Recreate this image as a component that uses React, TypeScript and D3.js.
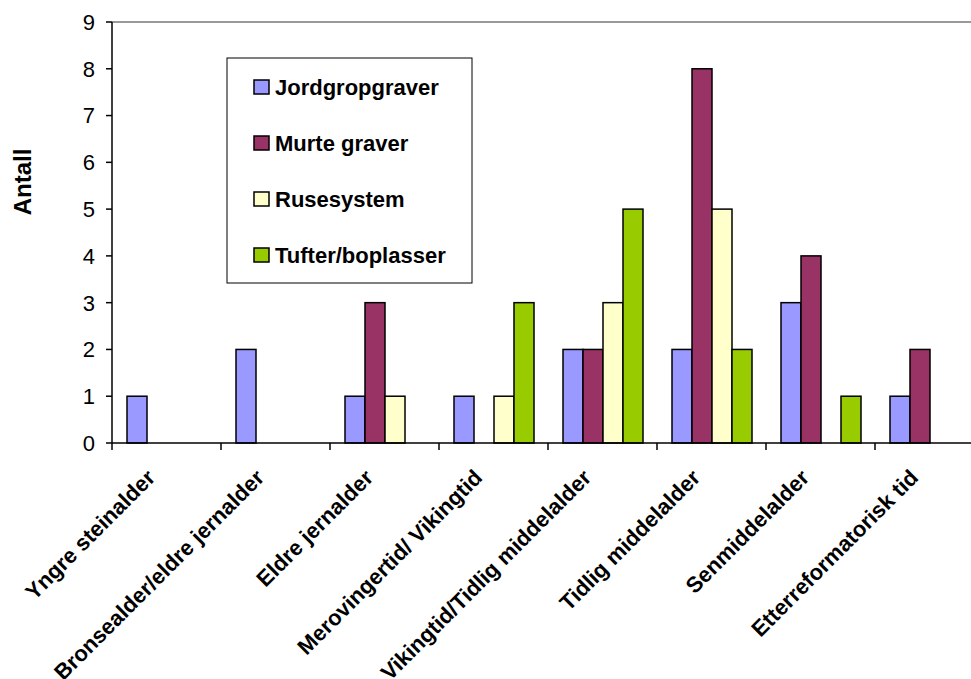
import React from "react";
import * as d3 from "d3";

const categories = [
  "Yngre steinalder",
  "Bronsealder/eldre jernalder",
  "Eldre jernalder",
  "Merovingertid/ Vikingtid",
  "Vikingtid/Tidlig middelalder",
  "Tidlig middelalder",
  "Senmiddelalder",
  "Etterreformatorisk tid",
];
const seriesNames = ["Jordgropgraver", "Murte graver", "Rusesystem", "Tufter/boplasser"];
const jordgropgraver = [1, 2, 1, 1, 2, 2, 3, 1];
const murteGraver = [0, 0, 3, 0, 2, 8, 4, 2];
const rusesystem = [0, 0, 1, 1, 3, 5, 0, 0];
const tufter = [0, 0, 0, 3, 5, 2, 1, 0];
const colors = ["#9999FF", "#993366", "#FFFFCC", "#99CC00"];
const yTicks = [0, 1, 2, 3, 4, 5, 6, 7, 8, 9];

const W = 971;
const H = 679;
const FONT = "Arial, 'Liberation Sans', sans-serif";

export default function App() {
  const series = [jordgropgraver, murteGraver, rusesystem, tufter];
  const left = 112;
  const top = 22;
  const bottom = 443;
  const step = 109;
  const x = d3.scaleBand<string>().domain(categories).range([left, left + step * categories.length]).paddingInner(0).paddingOuter(0);
  const y = d3.scaleLinear().domain([0, 9]).range([bottom, top]);
  const inner = d3.scaleBand<number>().domain([0, 1, 2, 3]).range([15, 95]).padding(0);

  return (
    <svg width={W} height={H} style={{ position: "absolute", left: 0, top: 0, background: "#fff" }}>
      <rect x={0} y={0} width={W} height={H} fill="#fff" />
      <line x1={left} x2={W} y1={y(9)} y2={y(9)} stroke="#999" strokeWidth={2} />
      {categories.map((c, ci) =>
        series.map((s, si) =>
          s[ci] > 0 ? (
            <rect
              key={`${ci}-${si}`}
              x={(x(c) as number) + (inner(si) as number)}
              y={y(s[ci])}
              width={inner.bandwidth()}
              height={y(0) - y(s[ci])}
              fill={colors[si]}
              stroke="#000"
              strokeWidth={1.5}
            />
          ) : null
        )
      )}
      <line x1={left} x2={left} y1={top} y2={bottom} stroke="#000" strokeWidth={1.5} />
      {yTicks.map((t) => (
        <g key={t}>
          <line x1={left - 6} x2={left} y1={y(t)} y2={y(t)} stroke="#000" strokeWidth={1.5} />
          <text x={95} y={y(t)} dy="0.36em" textAnchor="end" fontFamily={FONT} fontSize={22} fill="#000">
            {t}
          </text>
        </g>
      ))}
      <line x1={left} x2={W} y1={bottom} y2={bottom} stroke="#000" strokeWidth={1.5} />
      {categories.map((c) => (
        <line key={c} x1={x(c) as number} x2={x(c) as number} y1={bottom} y2={bottom + 7} stroke="#000" strokeWidth={1.5} />
      ))}
      {categories.map((c) => {
        const cx = (x(c) as number) + x.bandwidth() / 2;
        return (
          <text
            key={c}
            transform={`translate(${cx - 10},${479}) rotate(-45)`}
            textAnchor="end"
            fontFamily={FONT}
            fontSize={22}
            fontWeight="bold"
            fill="#000"
          >
            {c}
          </text>
        );
      })}
      <text transform={`translate(31,182) rotate(-90)`} textAnchor="middle" fontFamily={FONT} fontSize={24} fontWeight="bold">
        Antall
      </text>
      <rect x={227} y={58} width={245} height={225} fill="#fff" stroke="#000" strokeWidth={1} />
      {seriesNames.map((n, i) => {
        const cy = 87 + i * 56;
        return (
          <g key={n}>
            <rect x={254} y={cy - 7} width={15} height={14} fill={colors[i]} stroke="#000" strokeWidth={1.5} />
            <text x={275} y={cy} dy="0.36em" fontFamily={FONT} fontSize={22} fontWeight="bold">
              {n}
            </text>
          </g>
        );
      })}
    </svg>
  );
}
